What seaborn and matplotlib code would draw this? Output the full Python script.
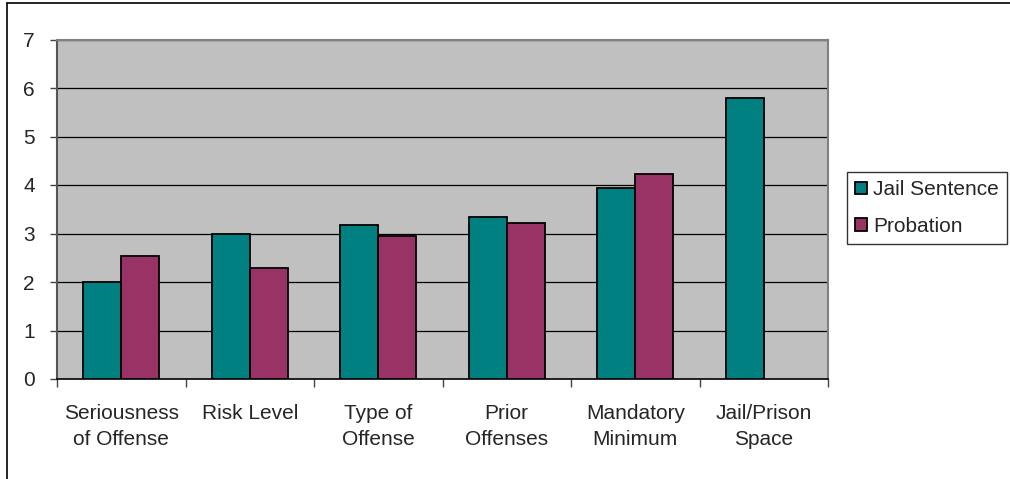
import matplotlib
matplotlib.use("Agg")
import matplotlib.pyplot as plt
import seaborn as sns
import pandas as pd
import numpy as np
from matplotlib.lines import Line2D

categories = ["Seriousness\nof Offense", "Risk Level", "Type of\nOffense",
              "Prior\nOffenses", "Mandatory\nMinimum", "Jail/Prison\nSpace"]
jail_sentence = [2.0, 2.98, 3.17, 3.34, 3.93, 5.79]
probation = [2.53, 2.28, 2.95, 3.22, 4.22, np.nan]
series_names = ["Jail Sentence", "Probation"]
yticks = [0, 1, 2, 3, 4, 5, 6, 7]

df = pd.DataFrame({
    "category": categories * 2,
    "value": jail_sentence + probation,
    "series": [series_names[0]] * len(categories) + [series_names[1]] * len(categories),
})

sns.set_style("white")
plt.rcParams["font.family"] = ["Liberation Sans", "DejaVu Sans"]

fig = plt.figure(figsize=(10.10, 4.79), dpi=100)
ax = fig.add_axes([57 / 1010, 1 - 379 / 479, (828 - 57) / 1010, (379 - 39.5) / 479])

sns.barplot(data=df, x="category", y="value", hue="series",
            palette=["#008080", "#993366"], saturation=1, width=0.59, dodge=True,
            edgecolor="black", linewidth=1.3, ax=ax, legend=True, zorder=3)

ax.set_facecolor("#C0C0C0")
ax.set_xlim(-0.5, len(categories) - 0.5)
ax.set_ylim(0, 7)
ax.set_yticks(yticks)
ax.set_yticklabels([str(t) for t in yticks], fontsize=15)
for t in yticks[1:]:
    ax.axhline(t, color="black", linewidth=0.9, zorder=1)

ax.set_xticks(range(len(categories)))
ax.set_xticklabels(categories, fontsize=15, linespacing=1.45)
ax.tick_params(axis="x", which="major", length=0, pad=18)
ax.set_xticks(np.arange(-0.5, len(categories), 1.0), minor=True)
ax.tick_params(axis="x", which="minor", length=6, width=1, color="#444444", direction="out", bottom=True)
ax.tick_params(axis="y", length=5, width=1, color="#444444", direction="out", left=True, pad=11)
ax.set_xlabel("")
ax.set_ylabel("")

for side in ["top", "right", "left"]:
    ax.spines[side].set_color("#808080")
    ax.spines[side].set_linewidth(1.5)
ax.spines["left"].set_color("#555555")
ax.spines["bottom"].set_color("black")
ax.spines["bottom"].set_linewidth(1.2)

h, l = ax.get_legend_handles_labels()
ax.legend_.remove()
leg = fig.legend(h, l, loc="upper left", bbox_to_anchor=(847 / 1010, 1 - 172 / 479),
                 fontsize=15, frameon=True, fancybox=False, edgecolor="black",
                 handlelength=0.55, handleheight=0.55, handletextpad=0.3,
                 borderpad=0.4, labelspacing=0.85, borderaxespad=0)
leg.get_frame().set_linewidth(1.0)

# figure border (top and left visible)
fig.add_artist(Line2D([7 / 1010, 1.0], [1 - 3 / 479, 1 - 3 / 479], color="black", linewidth=1.2, transform=fig.transFigure))
fig.add_artist(Line2D([7 / 1010, 7 / 1010], [0, 1 - 3 / 479], color="black", linewidth=1.2, transform=fig.transFigure))

fig.savefig("out.png", dpi=100)
